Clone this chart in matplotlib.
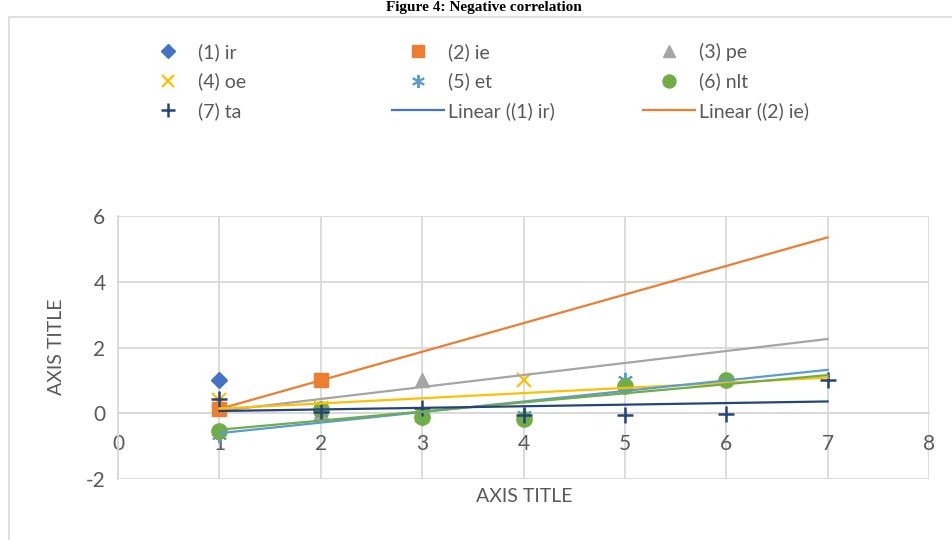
import matplotlib
matplotlib.use("Agg")
import matplotlib.pyplot as plt
import numpy as np
from matplotlib.lines import Line2D
from matplotlib.patches import Rectangle

# ---------------- data ----------------
series_names = ["(1) ir", "(2) ie", "(3) pe", "(4) oe", "(5) et", "(6) nlt", "(7) ta"]
ir = [1.0]
ie = [0.13, 1.0]
pe = [0.27, 0.03, 1.0]
oe = [0.40, 0.17, -0.06, 1.0]
et = [-0.66, 0.05, -0.15, -0.06, 1.0]
nlt = [-0.54, 0.14, -0.11, -0.16, 0.82, 1.0]
ta = [0.42, 0.05, 0.16, -0.05, -0.06, -0.03, 1.0]
all_series = [ir, ie, pe, oe, et, nlt, ta]
trend_range = [1, 7]
x_ticks = [0, 1, 2, 3, 4, 5, 6, 7, 8]
y_ticks = [-2, 0, 2, 4, 6]
title_text = "Figure 4: Negative correlation"
axis_title = "AXIS TITLE"

# ---------------- style ----------------
colors = ["#4472C4", "#ED7D31", "#A5A5A5", "#FFC000", "#5B9BD5", "#70AD47", "#264478"]
markers = ["D", "s", "^", "x", (6, 2, 0), "o", "+"]
msizes = [8.5, 10, 10, 10, 11, 11, 12]
mews = [1, 1, 1, 1.6, 1.4, 1, 1.8]
zorders = [6, 4, 3, 3, 4, 5, 6]
grid_c = "#D9D9D9"
text_c = "#595959"
FONT = ["Lato", "DejaVu Sans"]
plt.rcParams["font.family"] = FONT
plt.rcParams["axes.unicode_minus"] = False

W, H = 953, 540
fig = plt.figure(figsize=(W / 100, H / 100), dpi=100)
ax = fig.add_axes([118 / W, 1 - 479 / H, (929 - 118) / W, (479 - 216) / H])

# border of chart area
fig.patches.append(Rectangle((9 / W, -0.1), 2, 1 - 17 / H + 0.1, transform=fig.transFigure,
                             fill=False, edgecolor=grid_c, linewidth=1.2, zorder=0))

# title (at the very top)
fig.text(0.508, 1 - 1 / H, title_text, ha="center", va="top",
         family="Liberation Serif", weight="bold", fontsize=11, color="black")

handles = []
for i, (vals, c, m, ms, mew, z) in enumerate(zip(all_series, colors, markers, msizes, mews, zorders)):
    xs = np.arange(1, len(vals) + 1)
    if m in ("x", "+") or isinstance(m, tuple):
        h, = ax.plot(xs, vals, linestyle="none", marker=m, markersize=ms, color=c,
                     markeredgewidth=mew, zorder=z, label=series_names[i])
    else:
        h, = ax.plot(xs, vals, linestyle="none", marker=m, markersize=ms, color=c,
                     markeredgecolor=c, markeredgewidth=mew, zorder=z, label=series_names[i])
    handles.append(h)

# linear trendlines
tx = np.array(trend_range, dtype=float)
for vals, c in zip(all_series, colors):
    if len(vals) < 2:
        continue
    xs = np.arange(1, len(vals) + 1)
    k, b = np.polyfit(xs, vals, 1)
    ax.plot(tx, k * tx + b, color=c, linewidth=1.6, zorder=8)

ax.set_xlim(0, 8)
ax.set_ylim(-2, 6)
ax.set_xticks(x_ticks)
ax.set_yticks(y_ticks)
ax.grid(True, color=grid_c, linewidth=1.3, zorder=0)
ax.set_axisbelow(True)
for s in ["top", "right"]:
    ax.spines[s].set_visible(False)
ax.spines["bottom"].set_position(("data", 0))
ax.spines["bottom"].set_color(grid_c)
ax.spines["left"].set_color(grid_c)
ax.spines["bottom"].set_linewidth(1.3)
ax.spines["left"].set_linewidth(1.3)
ax.tick_params(axis="x", length=0, pad=15, labelsize=15, colors=text_c)
ax.tick_params(axis="y", length=0, pad=9, labelsize=15, colors=text_c)

fig.text(524 / W, 1 - 497 / H, axis_title, ha="center", va="center", fontsize=14, color=text_c)
fig.text(57 / W, 1 - 347 / H, axis_title, ha="center", va="center", rotation=90,
         fontsize=14, color=text_c)

# legend: three columns, rows filled left to right
lin_ir = Line2D([], [], color=colors[0], linewidth=1.6)
lin_ie = Line2D([], [], color=colors[1], linewidth=1.6)
entries = handles + [lin_ir, lin_ie]
labels = series_names + ["Linear ((1) ir)", "Linear ((2) ie)"]
col_x = [142, 392, 643]
for ci in range(3):
    hs = [entries[ci + 3 * r] for r in range(3)]
    ls = [labels[ci + 3 * r] for r in range(3)]
    leg = fig.legend(hs, ls, loc="upper left", bbox_to_anchor=(col_x[ci] / W, 1 - 43 / H),
                     frameon=False, fontsize=14, handlelength=2.67, handletextpad=0.2,
                     labelspacing=0.6, borderpad=0, borderaxespad=0, markerscale=0.85,
                     numpoints=1)
    for t in leg.get_texts():
        t.set_color(text_c)

fig.savefig("out.png", dpi=100)
